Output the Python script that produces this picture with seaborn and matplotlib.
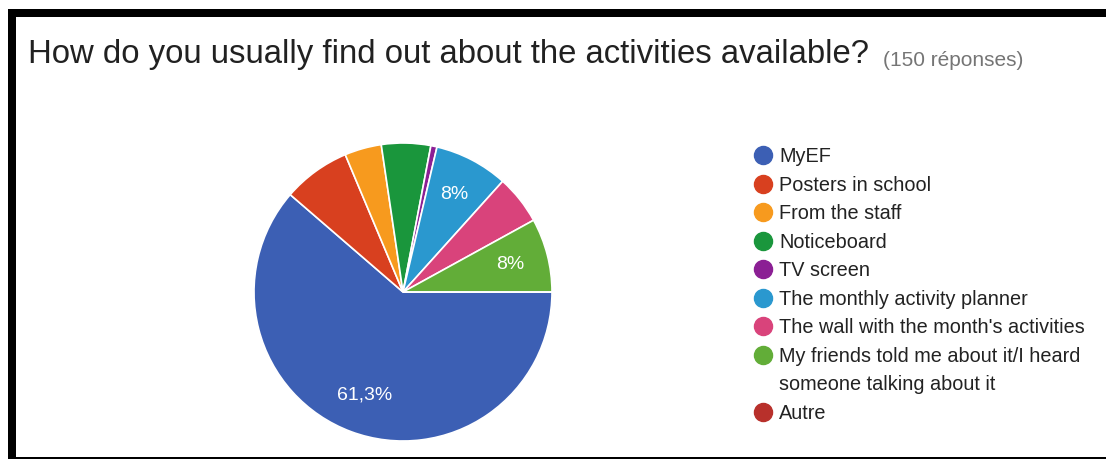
import matplotlib
matplotlib.use("Agg")
import matplotlib.pyplot as plt
import seaborn as sns
from matplotlib.lines import Line2D
from matplotlib.patches import Rectangle

# Survey answers (150 respondents)
categories = [
    "MyEF",
    "Posters in school",
    "From the staff",
    "Noticeboard",
    "TV screen",
    "The monthly activity planner",
    "The wall with the month's activities",
    "My friends told me about it/I heard\nsomeone talking about it",
    "Autre",
]
responses = [92, 11, 6, 8, 1, 12, 8, 12, 0]
slice_colors = ["#3c5fb4", "#d8401f", "#f79a1e", "#1a963c", "#8b1f94",
                "#2a98cf", "#d9437b", "#62ad38", "#b8302b"]
title = "How do you usually find out about the activities available?"
subtitle = "(150 réponses)"

sns.set_theme(style="white")
plt.rcParams["font.family"] = ["Liberation Sans", "DejaVu Sans"]

W, H = 1106, 459
fig = plt.figure(figsize=(W / 100, H / 100), dpi=100)
fig.patch.set_facecolor("white")

# Pie placed in a square axes (pixel geometry)
cx, cy, r = 403, 292, 149
ax = fig.add_axes([(cx - r) / W, (H - cy - r) / H, 2 * r / W, 2 * r / H])
palette = sns.color_palette(slice_colors)


def pct_label(p):
    if p < 7.5:
        return ""
    s = f"{p:.1f}".replace(".", ",")
    if s.endswith(",0"):
        s = s[:-2]
    return s + "%"


wedges, texts, autotexts = ax.pie(
    responses,
    colors=palette,
    startangle=0,
    counterclock=False,
    autopct=pct_label,
    pctdistance=0.74,
    wedgeprops=dict(edgecolor="white", linewidth=1.2),
    textprops=dict(color="white", fontsize=14),
)
ax.set_xlim(-1, 1)
ax.set_ylim(-1, 1)
ax.set_aspect("equal")
ax.axis("off")

# Legend: circle markers, the long label wraps onto a second row
handles, labels = [], []
for name, col in zip(categories, palette):
    parts = name.split("\n")
    handles.append(Line2D([], [], marker="o", linestyle="none", markersize=13,
                          markerfacecolor=col, markeredgecolor=col))
    labels.append(parts[0])
    for extra in parts[1:]:
        handles.append(Line2D([], [], linestyle="none"))
        labels.append(extra)

fig.legend(handles, labels, loc="upper left",
           bbox_to_anchor=(754 / W, 1 - 147 / H),
           frameon=False, fontsize=14.3, labelspacing=0.48,
           handletextpad=0.36, handlelength=0.9,
           borderpad=0, borderaxespad=0, labelcolor="#222222")

# Title and response count
t = fig.text(28 / W, 1 - 63 / H, title, fontsize=23.7, color="#212121",
             va="baseline", ha="left")
plt.annotate(subtitle, xy=(1, 0), xycoords=t, xytext=(10, 0),
             textcoords="offset points", fontsize=15, color="#757575",
             va="bottom", ha="left")

# Black frame around the card
fig.add_artist(Rectangle((8 / W, (H - 17) / H), (W - 8) / W, 8 / H,
                         transform=fig.transFigure, color="black", lw=0))
fig.add_artist(Rectangle((8 / W, 0), 8 / W, (H - 9) / H,
                         transform=fig.transFigure, color="black", lw=0))
fig.add_artist(Rectangle((8 / W, 0.5 / H), (W - 8) / W, 2 / H,
                         transform=fig.transFigure, color="black", lw=0))

fig.savefig("out.png", dpi=100, facecolor="white")
